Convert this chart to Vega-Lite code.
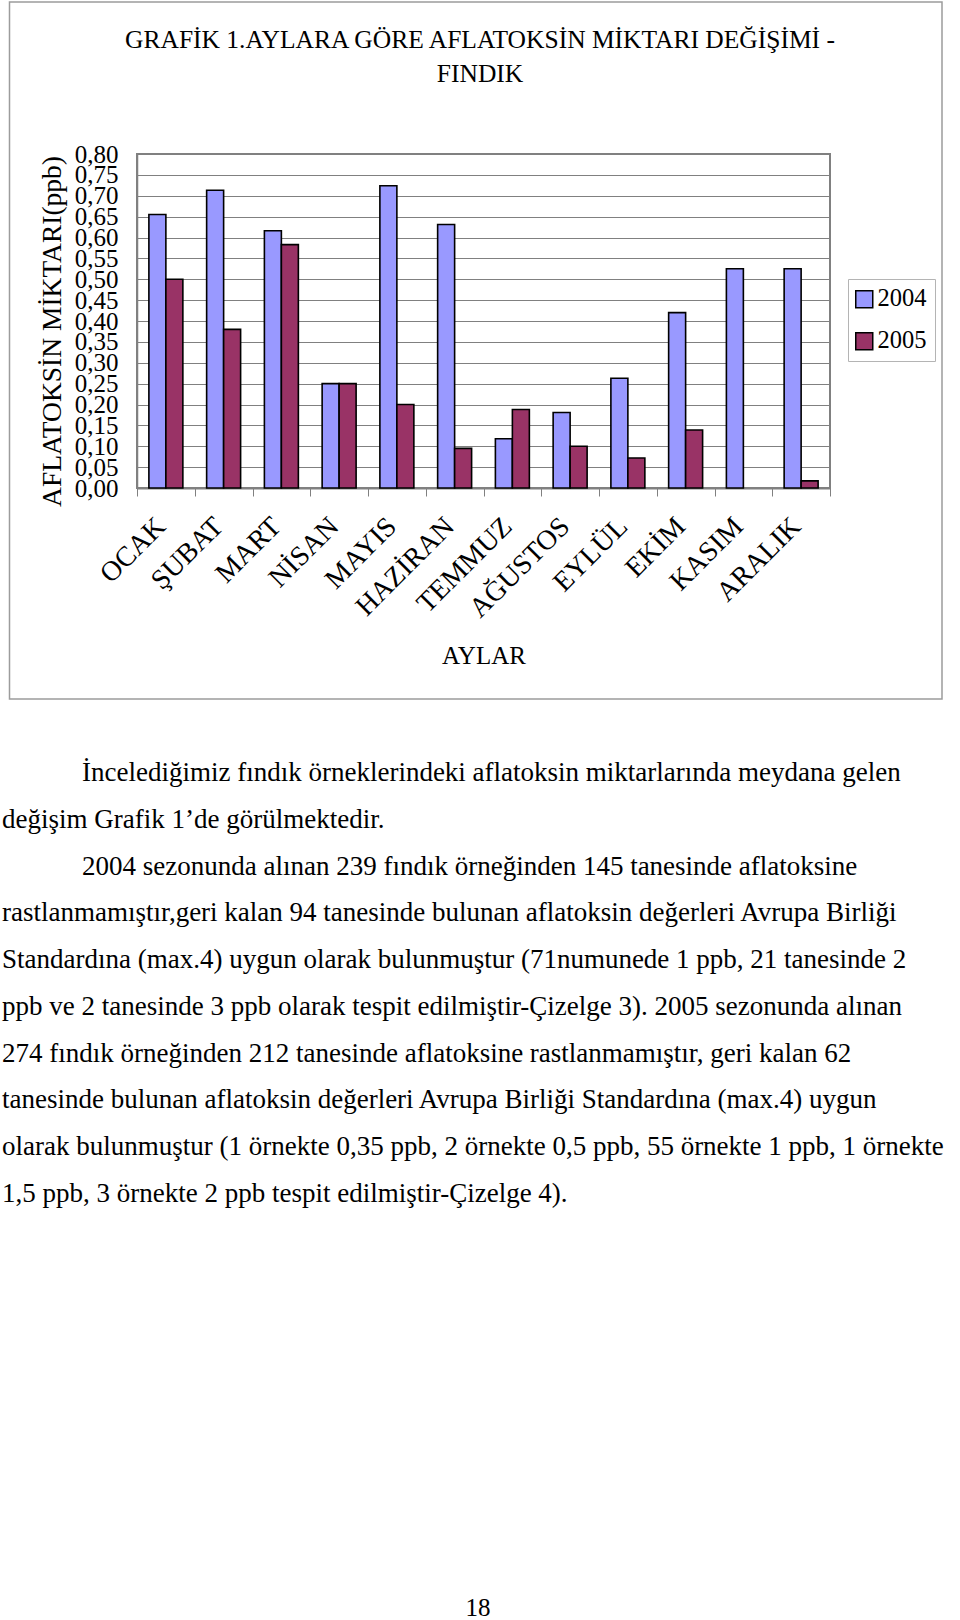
{
  "$schema": "https://vega.github.io/schema/vega-lite/v6.json",
  "width": 693,
  "height": 334,
  "autosize": "none",
  "padding": {"left": 137, "top": 154, "right": 130, "bottom": 1132},
  "background": "white",
  "config": {
    "view": {"fill": "#C0C0C0", "stroke": "#808080", "strokeWidth": 2},
    "font": "Liberation Serif"
  },
  "title": {
    "text": ["GRAFİK 1.AYLARA GÖRE AFLATOKSİN MİKTARI DEĞİŞİMİ -", "FINDIK"],
    "font": "Liberation Serif",
    "fontSize": 25.5,
    "fontWeight": "normal",
    "color": "black",
    "anchor": "middle",
    "frame": "group",
    "offset": 0,
    "baseline": "alphabetic",
    "lineHeight": 34,
    "dx": -3.5,
    "dy": 106
  },
  "layer": [
    {
      "data": {"values": [{}]},
      "mark": {"type": "rect", "filled": false, "stroke": "#9c9c9c", "strokeWidth": 1.5},
      "encoding": {
        "x": {"datum": 0, "type": "quantitative", "scale": {"domain": [0, 1], "range": [-127.5, 805], "zero": false, "nice": false}, "axis": null},
        "x2": {"datum": 1},
        "y": {"datum": 0, "type": "quantitative", "scale": {"domain": [0, 1], "range": [545, -152], "zero": false, "nice": false}, "axis": null},
        "y2": {"datum": 1}
      }
    },
    {
      "data": {
        "values": [
          {"month": "OCAK", "year": "2004", "value": 0.655},
          {"month": "OCAK", "year": "2005", "value": 0.50},
          {"month": "ŞUBAT", "year": "2004", "value": 0.713},
          {"month": "ŞUBAT", "year": "2005", "value": 0.38},
          {"month": "MART", "year": "2004", "value": 0.616},
          {"month": "MART", "year": "2005", "value": 0.583},
          {"month": "NİSAN", "year": "2004", "value": 0.25},
          {"month": "NİSAN", "year": "2005", "value": 0.25},
          {"month": "MAYIS", "year": "2004", "value": 0.724},
          {"month": "MAYIS", "year": "2005", "value": 0.20},
          {"month": "HAZİRAN", "year": "2004", "value": 0.631},
          {"month": "HAZİRAN", "year": "2005", "value": 0.095},
          {"month": "TEMMUZ", "year": "2004", "value": 0.118},
          {"month": "TEMMUZ", "year": "2005", "value": 0.188},
          {"month": "AĞUSTOS", "year": "2004", "value": 0.181},
          {"month": "AĞUSTOS", "year": "2005", "value": 0.10},
          {"month": "EYLÜL", "year": "2004", "value": 0.263},
          {"month": "EYLÜL", "year": "2005", "value": 0.072},
          {"month": "EKİM", "year": "2004", "value": 0.42},
          {"month": "EKİM", "year": "2005", "value": 0.139},
          {"month": "KASIM", "year": "2004", "value": 0.525},
          {"month": "ARALIK", "year": "2004", "value": 0.525},
          {"month": "ARALIK", "year": "2005", "value": 0.017}
        ]
      },
      "mark": {"type": "bar", "stroke": "black", "strokeWidth": 1.6},
      "encoding": {
        "x": {
          "field": "month",
          "type": "nominal",
          "sort": ["OCAK", "ŞUBAT", "MART", "NİSAN", "MAYIS", "HAZİRAN", "TEMMUZ", "AĞUSTOS", "EYLÜL", "EKİM", "KASIM", "ARALIK"],
          "scale": {"paddingInner": 0, "paddingOuter": 0},
          "axis": {
            "title": "AYLAR",
            "titleFont": "Liberation Serif",
            "titleFontSize": 25,
            "titleFontWeight": "normal",
            "titleColor": "black",
            "titleY": 175,
            "titleBaseline": "alphabetic",
            "labelAngle": -45,
            "labelAlign": "right",
            "labelBaseline": "middle",
            "labelFont": "Liberation Serif",
            "labelFontSize": 28,
            "labelColor": "black",
            "labelPadding": 26,
            "labelOffset": -5,
            "labelOverlap": false,
            "labelLimit": 0,
            "tickBand": "extent",
            "tickSize": 8,
            "tickColor": "#808080",
            "tickWidth": 1,
            "domainColor": "#808080",
            "domainWidth": 2,
            "grid": false
          }
        },
        "xOffset": {"field": "year", "type": "nominal", "scale": {"paddingInner": 0, "paddingOuter": 0.7}},
        "y": {
          "field": "value",
          "type": "quantitative",
          "scale": {"domain": [0, 0.8], "nice": false},
          "axis": {
            "title": "AFLATOKSİN MİKTARI(ppb)",
            "titleFont": "Liberation Serif",
            "titleFontSize": 27.5,
            "titleFontWeight": "normal",
            "titleColor": "black",
            "titleX": -77,
            "titleY": 177,
            "titleBaseline": "alphabetic",
            "values": [0, 0.05, 0.1, 0.15, 0.2, 0.25, 0.3, 0.35, 0.4, 0.45, 0.5, 0.55, 0.6, 0.65, 0.7, 0.75, 0.8],
            "labelExpr": "replace(format(datum.value, '.2f'), '.', ',')",
            "labelFont": "Liberation Serif",
            "labelFontSize": 25,
            "labelColor": "black",
            "labelOverlap": false,
            "labelPadding": 19,
            "ticks": false,
            "tickSize": 0,
            "grid": true,
            "gridColor": "#808080",
            "gridWidth": 1.2,
            "domainColor": "#808080",
            "domainWidth": 1.5
          }
        },
        "color": {
          "field": "year",
          "type": "nominal",
          "scale": {"domain": ["2004", "2005"], "range": ["#9999FF", "#993366"]},
          "legend": {
            "title": null,
            "orient": "none",
            "legendX": 711,
            "legendY": 125,
            "fillColor": "white",
            "strokeColor": "#b4b4b4",
            "padding": 8,
            "symbolType": "square",
            "symbolSize": 289,
            "symbolOffset": -4,
            "symbolStrokeColor": "black",
            "symbolStrokeWidth": 1.5,
            "symbolOpacity": 1,
            "labelFont": "Liberation Serif",
            "labelFontSize": 24.5,
            "labelColor": "black",
            "labelOffset": 1,
            "rowPadding": 17
          }
        }
      }
    },
    {
      "data": {
        "values": [
          {"line": 1, "indent": 1, "text": "İncelediğimiz fındık örneklerindeki aflatoksin miktarlarında meydana gelen"},
          {"line": 2, "indent": 0, "text": "değişim Grafik 1’de görülmektedir."},
          {"line": 3, "indent": 1, "text": "2004 sezonunda alınan 239 fındık örneğinden 145 tanesinde aflatoksine"},
          {"line": 4, "indent": 0, "text": "rastlanmamıştır,geri kalan 94 tanesinde bulunan aflatoksin değerleri Avrupa Birliği"},
          {"line": 5, "indent": 0, "text": "Standardına (max.4) uygun olarak bulunmuştur (71numunede 1 ppb, 21 tanesinde 2"},
          {"line": 6, "indent": 0, "text": "ppb ve 2 tanesinde 3 ppb olarak tespit edilmiştir-Çizelge 3). 2005 sezonunda alınan"},
          {"line": 7, "indent": 0, "text": "274 fındık örneğinden 212 tanesinde aflatoksine rastlanmamıştır, geri kalan 62"},
          {"line": 8, "indent": 0, "text": "tanesinde bulunan aflatoksin değerleri Avrupa Birliği Standardına (max.4) uygun"},
          {"line": 9, "indent": 0, "text": "olarak bulunmuştur (1 örnekte 0,35 ppb, 2 örnekte 0,5 ppb, 55 örnekte 1 ppb, 1 örnekte"},
          {"line": 10, "indent": 0, "text": "1,5 ppb, 3 örnekte 2 ppb tespit edilmiştir-Çizelge 4)."}
        ]
      },
      "mark": {"type": "text", "align": "left", "baseline": "alphabetic", "font": "Liberation Serif", "fontSize": 27, "color": "black"},
      "encoding": {
        "text": {"field": "text"},
        "x": {"field": "indent", "type": "quantitative", "scale": {"domain": [0, 1], "range": [-135, -55], "zero": false, "nice": false}, "axis": null},
        "y": {"field": "line", "type": "quantitative", "scale": {"domain": [1, 10], "range": [627, 1048], "zero": false, "nice": false}, "axis": null}
      }
    },
    {
      "data": {"values": [{"page": "18"}]},
      "mark": {"type": "text", "align": "center", "baseline": "alphabetic", "font": "Liberation Serif", "fontSize": 25, "color": "black", "dx": -5.5, "dy": 1295},
      "encoding": {
        "text": {"field": "page"}
      }
    }
  ],
  "resolve": {"scale": {"x": "independent", "y": "independent", "color": "independent"}}
}
